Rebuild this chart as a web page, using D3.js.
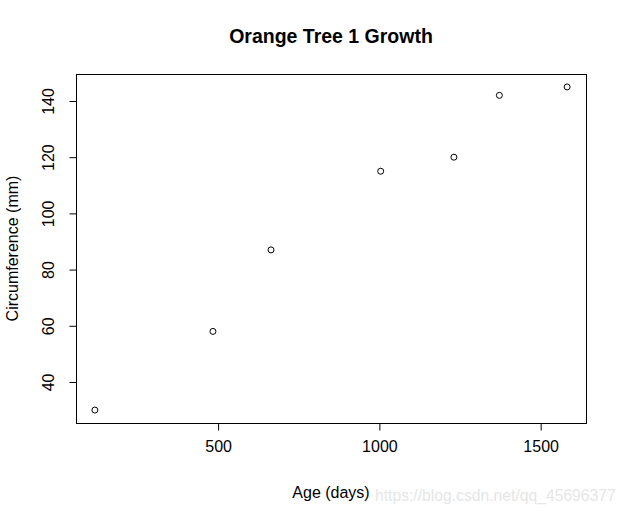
<!DOCTYPE html>
<html><head><meta charset="utf-8">
<script src="https://cdn.jsdelivr.net/npm/d3@7"></script>
<style>body{margin:0;background:#fff}svg{display:block}text{font-family:"Liberation Sans",Arial,sans-serif}</style>
</head><body><svg id="c" width="627" height="515"></svg>
<script>
const ages = [118, 484, 664, 1004, 1231, 1372, 1582];
const circumference = [30, 58, 87, 115, 120, 142, 145];
const xTicks = [500, 1000, 1500];
const yTicks = [40, 60, 80, 100, 120, 140];
const title = "Orange Tree 1 Growth";
const xTitle = "Age (days)";
const yTitle = "Circumference (mm)";
const watermark = "https://blog.csdn.net/qq_45696377";

const svg = d3.select("#c");
const L = 76, R = 586, T = 74, B = 423;
const xr = d3.extent(ages), yr = d3.extent(circumference);
const xp = (xr[1]-xr[0])*0.04, yp = (yr[1]-yr[0])*0.04;
const x = d3.scaleLinear().domain([xr[0]-xp, xr[1]+xp]).range([L, R]);
const y = d3.scaleLinear().domain([yr[0]-yp, yr[1]+yp]).range([B, T]);

svg.append("rect").attr("x", L+0.5).attr("y", T+0.5).attr("width", R-L).attr("height", B-T)
  .attr("fill", "none").attr("stroke", "#000").attr("stroke-width", 1);

const xa = svg.append("g").attr("transform", `translate(0,${B+0.5})`)
  .call(d3.axisBottom(x).tickValues(xTicks).tickSize(7).tickPadding(10).tickFormat(d3.format("d")));
xa.select(".domain").remove();
xa.selectAll("text").attr("font-size", 16).attr("font-family", "Liberation Sans, Arial, sans-serif").attr("fill", "#000");
xa.selectAll("line").attr("stroke", "#000");

const ya = svg.append("g").attr("transform", `translate(${L+0.5},0)`)
  .call(d3.axisLeft(y).tickValues(yTicks).tickSize(7).tickFormat(d3.format("d")));
ya.select(".domain").remove();
ya.selectAll("line").attr("stroke", "#000");
ya.selectAll("text").attr("font-size", 16).attr("font-family", "Liberation Sans, Arial, sans-serif").attr("fill", "#000")
  .attr("x", 0).attr("dy", 0).attr("text-anchor", "middle")
  .attr("transform", "translate(-23,0) rotate(-90)");

svg.selectAll("circle.pt").data(ages).enter().append("circle").attr("class", "pt")
  .attr("cx", (d) => x(d)).attr("cy", (d, i) => y(circumference[i])).attr("r", 3)
  .attr("fill", "none").attr("stroke", "#000").attr("stroke-width", 1);

svg.append("text").attr("x", (L+R)/2).attr("y", 43).attr("text-anchor", "middle")
  .attr("font-size", 19.5).attr("font-weight", "bold").text(title);
svg.append("text").attr("x", (L+R)/2).attr("y", 498).attr("text-anchor", "middle")
  .attr("font-size", 16).text(xTitle);
svg.append("text").attr("transform", `translate(18,${(T+B)/2}) rotate(-90)`).attr("text-anchor", "middle")
  .attr("font-size", 16).text(yTitle);
svg.append("text").attr("x", 375).attr("y", 501).attr("font-size", 15.7).attr("fill", "#e6e6e6").text(watermark);
</script></body></html>
